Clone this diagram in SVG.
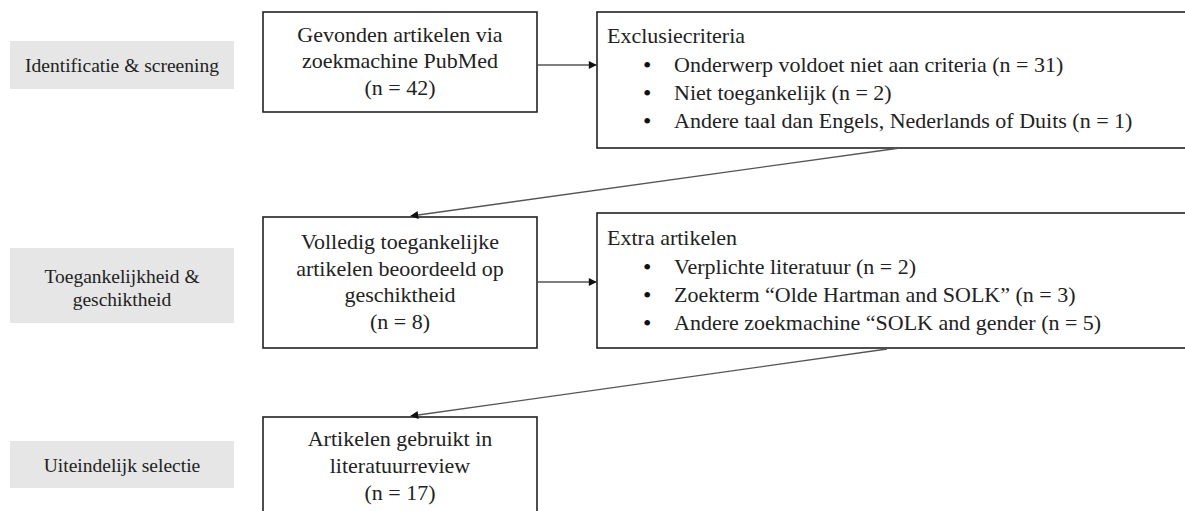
<svg xmlns="http://www.w3.org/2000/svg" width="1185" height="511" viewBox="0 0 1185 511">
<style>
.lbl{fill:#e6e6e6;stroke:none}
.box{fill:#fff;stroke:#222;stroke-width:1.6}
.t{font-family:"Liberation Serif","Times New Roman",serif;font-size:22px;fill:#222}
.tl{font-family:"Liberation Serif","Times New Roman",serif;font-size:19.5px;fill:#222}
.b{font-family:"Liberation Serif","Times New Roman",serif;font-size:24px;fill:#111}
.c{text-anchor:middle}
.con{stroke:#555;stroke-width:1.3;fill:none;marker-end:url(#ah)}
</style>
<defs>
<marker id="ah" viewBox="0 0 10 10" refX="9" refY="5" markerWidth="10" markerHeight="8" markerUnits="userSpaceOnUse" orient="auto">
<path d="M0,0 L10,5 L0,10 z" fill="#111"/>
</marker>
</defs>
<rect width="1185" height="511" fill="#fff"/>
<g id="label-identificatie">
<rect class="lbl" x="10" y="41" width="224" height="48"/>
<text class="tl c" x="122" y="72">Identificatie &amp; screening</text>
</g>
<g id="label-toegankelijkheid">
<rect class="lbl" x="10" y="248" width="224" height="75"/>
<text class="tl c" x="122" y="283">Toegankelijkheid &amp;</text>
<text class="tl c" x="122" y="306">geschiktheid</text>
</g>
<g id="label-selectie">
<rect class="lbl" x="10" y="441" width="224" height="47"/>
<text class="tl c" x="122" y="472">Uiteindelijk selectie</text>
</g>
<g id="node-gevonden">
<rect class="box" x="263" y="12" width="274" height="100"/>
<text class="t c" x="400" y="42">Gevonden artikelen via</text>
<text class="t c" x="400" y="68">zoekmachine PubMed</text>
<text class="t c" x="400" y="95">(n = 42)</text>
</g>
<g id="node-exclusie">
<rect class="box" x="597" y="12" width="600" height="136"/>
<text class="t" x="607" y="43">Exclusiecriteria</text>
<text class="b" x="643" y="73">•</text><text class="t" x="674" y="72">Onderwerp voldoet niet aan criteria (n = 31)</text>
<text class="b" x="643" y="101">•</text><text class="t" x="674" y="100">Niet toegankelijk (n = 2)</text>
<text class="b" x="643" y="129">•</text><text class="t" x="674" y="128">Andere taal dan Engels, Nederlands of Duits (n = 1)</text>
</g>
<g id="node-volledig">
<rect class="box" x="263" y="217" width="274" height="131"/>
<text class="t c" x="400" y="249">Volledig toegankelijke</text>
<text class="t c" x="400" y="276">artikelen beoordeeld op</text>
<text class="t c" x="400" y="302">geschiktheid</text>
<text class="t c" x="400" y="329">(n = 8)</text>
</g>
<g id="node-extra">
<rect class="box" x="597" y="213" width="600" height="135"/>
<text class="t" x="607" y="245">Extra artikelen</text>
<text class="b" x="643" y="275">•</text><text class="t" x="674" y="274">Verplichte literatuur (n = 2)</text>
<text class="b" x="643" y="303">•</text><text class="t" x="674" y="302">Zoekterm “Olde Hartman and SOLK” (n = 3)</text>
<text class="b" x="643" y="331">•</text><text class="t" x="674" y="330">Andere zoekmachine “SOLK and gender (n = 5)</text>
</g>
<g id="node-artikelen">
<rect class="box" x="263" y="417" width="274" height="110"/>
<text class="t c" x="400" y="446">Artikelen gebruikt in</text>
<text class="t c" x="400" y="473">literatuurreview</text>
<text class="t c" x="400" y="500">(n = 17)</text>
</g>
<g id="connectors">
<line class="con" x1="538" y1="65" x2="596" y2="65"/>
<line class="con" x1="538" y1="282" x2="596" y2="282"/>
<line class="con" x1="900" y1="148" x2="411" y2="216"/>
<line class="con" x1="887" y1="349" x2="411" y2="416"/>
</g>
</svg>
